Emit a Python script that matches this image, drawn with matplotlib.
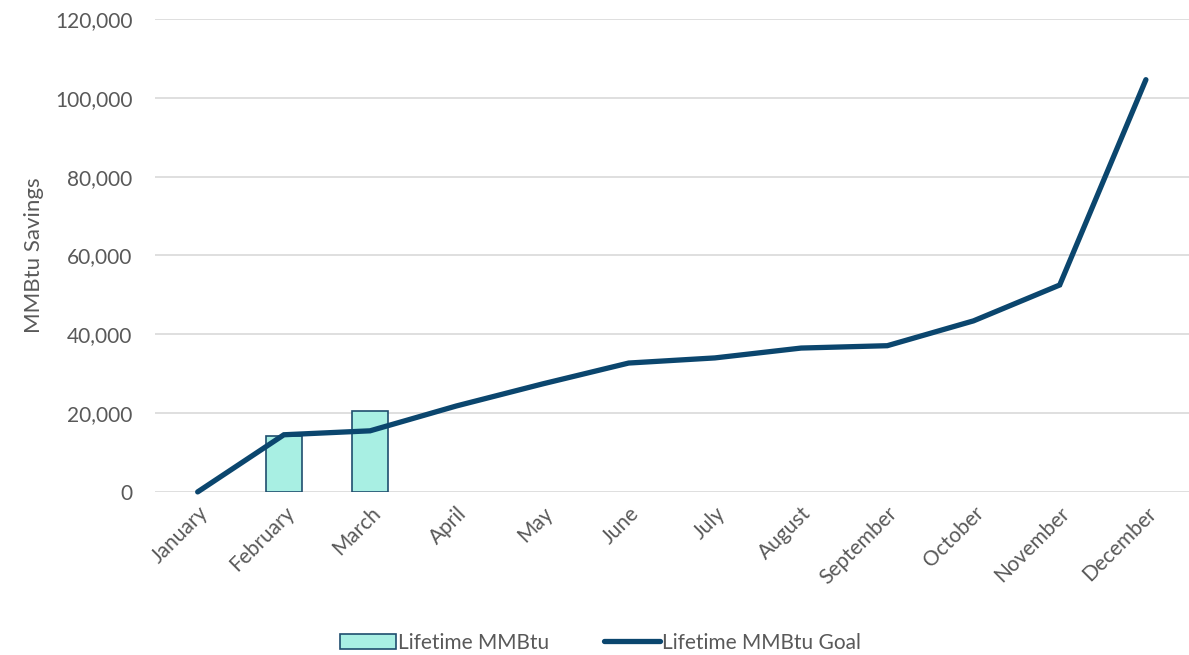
import matplotlib.pyplot as plt
import numpy as np
from matplotlib.ticker import FuncFormatter

# data
months = ['January', 'February', 'March', 'April', 'May', 'June', 'July',
          'August', 'September', 'October', 'November', 'December']
lifetime_mmbtu = [np.nan, 14200, 20500, np.nan, np.nan, np.nan, np.nan,
                  np.nan, np.nan, np.nan, np.nan, np.nan]
lifetime_goal = [0, 14500, 15500, 21800, 27400, 32700, 34000,
                 36500, 37100, 43400, 52500, 104600]

plt.rcParams['font.family'] = ['Lato', 'DejaVu Sans']

fig = plt.figure(figsize=(11.89, 6.55), dpi=100)
ax = fig.add_axes([0.130, 0.249, 0.870, 0.722])

x = np.arange(len(months))
bars = ax.bar(x, lifetime_mmbtu, width=0.41, color='#A8EFE3', edgecolor='#1F4E6E',
              linewidth=1.2, label='Lifetime MMBtu', zorder=2)
line, = ax.plot(x, lifetime_goal, color='#0B466E', linewidth=3.8,
                solid_capstyle='round', solid_joinstyle='miter',
                label='Lifetime MMBtu Goal', zorder=3, clip_on=False)

ax.set_xlim(-0.5, len(months) - 0.5)
ax.set_ylim(0, 120000)
ax.set_yticks(np.arange(0, 120001, 20000))
ax.yaxis.set_major_formatter(FuncFormatter(lambda v, p: f'{int(v):,}'))
ax.set_xticks(x)
ax.set_xticklabels(months, rotation=45, ha='right', rotation_mode='anchor')

ax.grid(axis='y', color='#D9D9D9', linewidth=1.2, zorder=0)
ax.set_axisbelow(True)
for s in ax.spines.values():
    s.set_visible(False)
ax.tick_params(axis='both', length=0, labelsize=15, colors='#595959')
ax.tick_params(axis='y', pad=16)
ax.tick_params(axis='x', pad=8)

ax.set_ylabel('MMBtu Savings', fontsize=16, color='#595959', labelpad=8)

leg = fig.legend([bars, line], ['Lifetime MMBtu', 'Lifetime MMBtu Goal'],
                 loc='lower center', bbox_to_anchor=(0.505, -0.025), ncol=2,
                 frameon=False, fontsize=15, handlelength=2.7,
                 columnspacing=2.6, handletextpad=0.1)
for t in leg.get_texts():
    t.set_color('#595959')

fig.savefig('out.png', dpi=100)
